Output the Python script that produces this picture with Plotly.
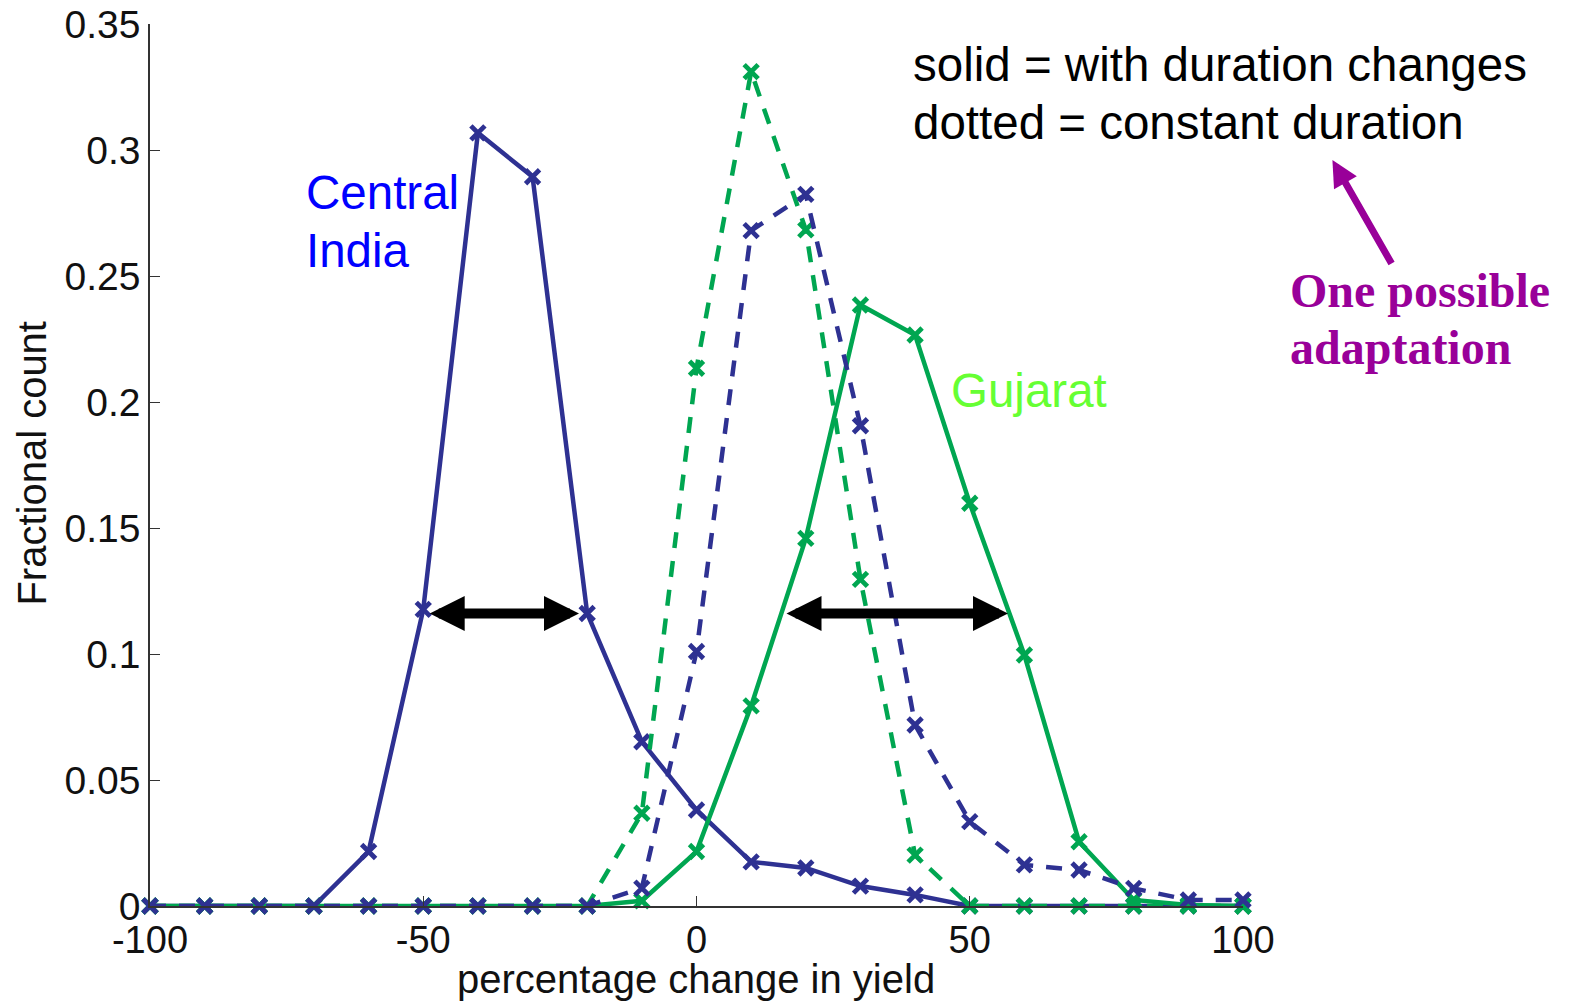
import plotly.graph_objects as go

x_vals = [-100, -90, -80, -70, -60, -50, -40, -30, -20, -10, 0, 10, 20, 30, 40, 50, 60, 70, 80, 90, 100]

central_solid = [0, 0, 0, 0, 0.0216, 0.1177, 0.3068, 0.2894, 0.1161, 0.0652, 0.0381, 0.0175, 0.0151,
                 0.0079, 0.0044, 0, 0, 0, 0, 0, 0]
central_dotted = [0, 0, 0, 0, 0, 0, 0, 0, 0, 0.0071, 0.1010, 0.2680, 0.2824, 0.1906, 0.0718, 0.0335,
                  0.0163, 0.0143, 0.0070, 0.0024, 0.0024]
gujarat_solid = [0, 0, 0, 0, 0, 0, 0, 0, 0, 0.0021, 0.0216, 0.0794, 0.1459, 0.2385, 0.2266, 0.1598,
                 0.0996, 0.0255, 0.0024, 0.0004, 0]
gujarat_dotted = [0, 0, 0, 0, 0, 0, 0, 0, 0, 0.0368, 0.2134, 0.3311, 0.2683, 0.1296, 0.0202, 0,
                  0, 0, 0, 0, 0]

x_ticks = [-100, -50, 0, 50, 100]
x_tick_labels = ["-100", "-50", "0", "50", "100"]
y_ticks = [0, 0.05, 0.1, 0.15, 0.2, 0.25, 0.3, 0.35]
y_tick_labels = ["0", "0.05", "0.1", "0.15", "0.2", "0.25", "0.3", "0.35"]

# width arrows (x start, x end, y level)
arrows = [(-49.1, -21.5, 0.1161), (16.2, 57.0, 0.1161)]

BLUE = "#2e3192"
GREEN = "#00a651"
FONT = "Liberation Sans, Arial, Helvetica, sans-serif"
SERIF = "Liberation Serif, Times New Roman, serif"

# plot area in pixels (for placing free text outside the data region)
L, R, T, B = 149.5, 1243.5, 24, 906


def px(xp):
    return (xp - L) / (R - L)


def py(yp):
    return (B - yp) / (B - T)


fig = go.Figure()


def add_series(y, color, dash):
    fig.add_trace(go.Scatter(
        x=x_vals, y=y, mode="lines+markers",
        line=dict(color=color, width=4.5, dash=dash),
        marker=dict(symbol="x-thin", size=14, line=dict(color=color, width=4.8), color=color),
        cliponaxis=False, showlegend=False, hoverinfo="skip",
    ))


add_series(central_solid, BLUE, "solid")
add_series(gujarat_solid, GREEN, "solid")
add_series(gujarat_dotted, GREEN, "16px,13px")
add_series(central_dotted, BLUE, "16px,13px")

annotations = []
for x0, x1, yv in arrows:
    annotations.append(dict(
        x=x1, y=yv, ax=x0, ay=yv, xref="x", yref="y", axref="x", ayref="y",
        text="", showarrow=True, arrowside="end+start",
        arrowhead=2, startarrowhead=2, arrowsize=0.7, startarrowsize=0.7,
        arrowwidth=10, arrowcolor="black",
    ))


def label(text, xp, yp, size, color, family=FONT):
    annotations.append(dict(
        x=px(xp), y=py(yp), xref="paper", yref="paper", xanchor="left", yanchor="middle",
        text=text, showarrow=False, align="left",
        font=dict(family=family, size=size, color=color),
    ))


label("Central", 304, 193, 47.5, "#0000ff")
label("India", 304, 250, 47.5, "#0000ff")
label("Gujarat", 949, 390, 47.5, "#66ff33")
label("solid = with duration changes", 911, 65, 47.5, "black")
label("dotted = constant duration", 911, 122, 47.5, "black")
label("<b>One possible</b>", 1289, 290, 48, "#990099", SERIF)
label("<b>adaptation</b>", 1289, 348, 48, "#990099", SERIF)

annotations.append(dict(
    x=px(1333), y=py(160), xref="paper", yref="paper",
    ax=60, ay=105, text="", showarrow=True, arrowhead=2, arrowsize=0.75,
    arrowwidth=7, arrowcolor="#990099",
))

# axis titles
annotations.append(dict(
    x=px(696), y=py(979), xref="paper", yref="paper", xanchor="center", yanchor="middle",
    text="percentage change in yield", showarrow=False,
    font=dict(family=FONT, size=40, color="#111"),
))
annotations.append(dict(
    x=px(31), y=py(463), xref="paper", yref="paper", xanchor="center", yanchor="middle",
    text="Fractional count", showarrow=False, textangle=-90,
    font=dict(family=FONT, size=40, color="#111"),
))

fig.update_layout(
    width=1571, height=1002,
    margin=dict(l=L, r=1571 - R, t=T, b=1002 - B, autoexpand=False),
    paper_bgcolor="white", plot_bgcolor="white",
    annotations=annotations,
    xaxis=dict(
        range=[-100, 100], tickmode="array", tickvals=x_ticks, ticktext=x_tick_labels,
        ticks="inside", ticklen=10, tickwidth=1.2, tickcolor="#333",
        showline=True, linecolor="#333", linewidth=1.5, mirror=False,
        showgrid=False, zeroline=False, automargin=False,
        tickfont=dict(family=FONT, size=38, color="#111"),
    ),
    yaxis=dict(
        range=[0, 0.35], tickmode="array", tickvals=y_ticks, ticktext=y_tick_labels,
        ticks="inside", ticklen=10, tickwidth=1.2, tickcolor="#333",
        showline=True, linecolor="#333", linewidth=1.5, mirror=False,
        showgrid=False, zeroline=False, automargin=False,
        tickfont=dict(family=FONT, size=39, color="#111"),
    ),
)

fig.write_html("out.html")
